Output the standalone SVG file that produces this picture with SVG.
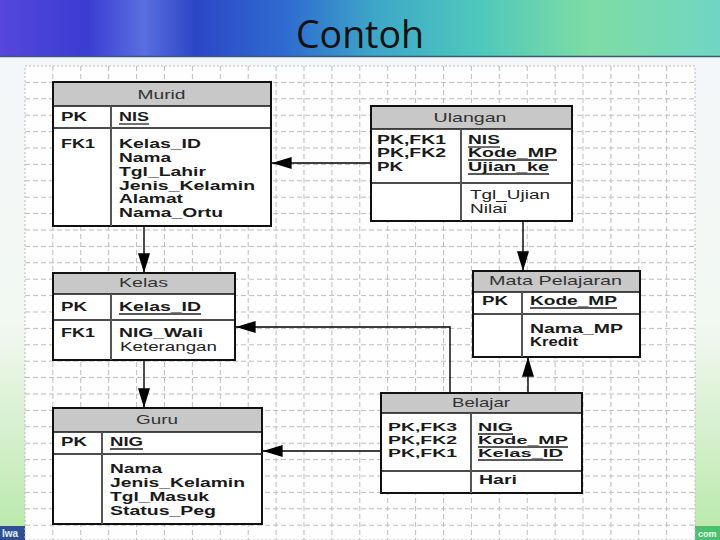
<svg xmlns="http://www.w3.org/2000/svg" width="720" height="540" viewBox="0 0 720 540">
<defs>
<linearGradient id="hdr" x1="0" y1="0" x2="1" y2="0">
<stop offset="0" stop-color="#5646dc"/>
<stop offset="0.12" stop-color="#3a3cd2"/>
<stop offset="0.2" stop-color="#5a6ee0"/>
<stop offset="0.27" stop-color="#2c46c6"/>
<stop offset="0.4" stop-color="#2f6cd0"/>
<stop offset="0.52" stop-color="#3ea6c8"/>
<stop offset="0.66" stop-color="#4cc8bc"/>
<stop offset="0.82" stop-color="#7edca4"/>
<stop offset="1" stop-color="#6fd6c4"/>
</linearGradient>
<linearGradient id="bg" x1="0" y1="0" x2="0" y2="1">
<stop offset="0" stop-color="#f4f6fa"/>
<stop offset="0.6" stop-color="#f2f8f2"/>
<stop offset="1" stop-color="#b8e8a8"/>
</linearGradient>
<marker id="ah" markerUnits="userSpaceOnUse" markerWidth="20" markerHeight="12" viewBox="0 0 18 11" refX="18" refY="5.5" orient="auto">
<path d="M0,0 L18,5.5 L0,11 Z" fill="#000"/>
</marker>
<style>
.tb{fill:#fff;stroke:#111;stroke-width:2}
.hd{fill:#c8c8c8;stroke:none}
.sep{stroke:#111;stroke-width:1.5}
.div{stroke:#555;stroke-width:2}
.ul{stroke:#222;stroke-width:1.3}
.t{font-family:"Liberation Sans",Arial,sans-serif;font-size:13px;fill:#333;text-anchor:middle}
.b{font-family:"Liberation Sans",Arial,sans-serif;font-size:12px;font-weight:bold;fill:#1a1a1a}
.s{font-size:11px}
.r{font-family:"Liberation Sans",Arial,sans-serif;font-size:12px;fill:#222}
.cn{fill:none;stroke:#000;stroke-width:1.4;marker-end:url(#ah)}
.grid{fill:none;stroke:#bdbdbd;stroke-width:1;stroke-dasharray:5 3}
</style>
</defs>

<rect x="0" y="0" width="720" height="540" fill="url(#bg)"/>
<rect x="0" y="0" width="720" height="56" fill="url(#hdr)"/>
<line x1="0" y1="56.5" x2="720" y2="56.5" stroke="#3c5a6a" stroke-width="1.5"/>
<text x="360" y="48" font-family="'Open Sans','Liberation Sans',sans-serif" font-size="38" fill="#111" text-anchor="middle" textLength="128" lengthAdjust="spacingAndGlyphs">Contoh</text>

<rect x="0" y="526" width="25" height="14" fill="#2e4f96"/>
<text x="2" y="537" font-family="'Liberation Sans',sans-serif" font-size="10" font-weight="bold" fill="#e8eef8">Iwa</text>
<rect x="695" y="526" width="25" height="14" fill="#4cc070"/>
<text x="698" y="537" font-family="'Liberation Sans',sans-serif" font-size="9" font-weight="bold" fill="#f0fff0">com</text>

<rect x="25" y="66" width="670" height="474" fill="#fefefe" stroke="#bbb" stroke-dasharray="2 2"/>
<path class="grid" d="M52.9,66V540M80.8,66V540M108.7,66V540M136.6,66V540M164.5,66V540M192.4,66V540M220.3,66V540M248.2,66V540M276.1,66V540M304,66V540M331.9,66V540M359.8,66V540M387.7,66V540M415.6,66V540M443.5,66V540M471.4,66V540M499.3,66V540M527.2,66V540M555.1,66V540M583,66V540M610.9,66V540M638.8,66V540M666.7,66V540M25,82.4H695M25,98.8H695M25,115.2H695M25,131.6H695M25,148H695M25,164.4H695M25,180.8H695M25,197.2H695M25,213.6H695M25,230H695M25,246.4H695M25,262.8H695M25,279.2H695M25,295.6H695M25,312H695M25,328.4H695M25,344.8H695M25,361.2H695M25,377.6H695M25,394H695M25,410.4H695M25,426.8H695M25,443.2H695M25,459.6H695M25,476H695M25,492.4H695M25,508.8H695M25,525.2H695"/>

<g id="connectors">
<path class="cn" d="M371,163H272"/>
<path class="cn" d="M144,226V273"/>
<path class="cn" d="M523,221V271"/>
<path class="cn" d="M528,393V357"/>
<path class="cn" d="M450,393V327H236"/>
<path class="cn" d="M381,451H263"/>
<path class="cn" d="M144,360V408"/>
</g>

<g id="murid">
<rect class="tb" x="53" y="82" width="218" height="144"/>
<rect class="hd" x="54" y="83" width="216" height="23"/>
<line class="sep" x1="53" y1="106" x2="271" y2="106"/>
<line class="sep" x1="53" y1="128" x2="271" y2="128"/>
<line class="div" x1="111" y1="106" x2="111" y2="226"/>
<text class="t" x="161.5" y="99" textLength="48" lengthAdjust="spacingAndGlyphs">Murid</text>
<text class="b" x="61" y="121" textLength="26" lengthAdjust="spacingAndGlyphs">PK</text>
<text class="b" x="119" y="121" textLength="30" lengthAdjust="spacingAndGlyphs">NIS</text>
<line class="ul" x1="119" y1="124" x2="149" y2="124"/>
<text class="b" x="61" y="148" textLength="34" lengthAdjust="spacingAndGlyphs">FK1</text>
<text class="b" x="119" y="148" textLength="82" lengthAdjust="spacingAndGlyphs">Kelas_ID</text>
<text class="b" x="119" y="162" textLength="52" lengthAdjust="spacingAndGlyphs">Nama</text>
<text class="b" x="119" y="176" textLength="87" lengthAdjust="spacingAndGlyphs">Tgl_Lahir</text>
<text class="b" x="119" y="190" textLength="136" lengthAdjust="spacingAndGlyphs">Jenis_Kelamin</text>
<text class="b" x="119" y="203" textLength="64" lengthAdjust="spacingAndGlyphs">Alamat</text>
<text class="b" x="119" y="217" textLength="104" lengthAdjust="spacingAndGlyphs">Nama_Ortu</text>
</g>

<g id="ulangan">
<rect class="tb" x="371" y="106" width="201" height="115"/>
<rect class="hd" x="372" y="107" width="199" height="22"/>
<line class="sep" x1="371" y1="129" x2="572" y2="129"/>
<line class="sep" x1="371" y1="183" x2="572" y2="183"/>
<line class="div" x1="461" y1="129" x2="461" y2="221"/>
<text class="t" x="470" y="122" textLength="73" lengthAdjust="spacingAndGlyphs">Ulangan</text>
<text class="b" x="377" y="144" textLength="69" lengthAdjust="spacingAndGlyphs">PK,FK1</text>
<text class="b" x="377" y="157" textLength="69" lengthAdjust="spacingAndGlyphs">PK,FK2</text>
<text class="b" x="377" y="171" textLength="26" lengthAdjust="spacingAndGlyphs">PK</text>
<text class="b" x="468" y="144" textLength="32" lengthAdjust="spacingAndGlyphs">NIS</text>
<line class="ul" x1="468" y1="147" x2="500" y2="147"/>
<text class="b" x="468" y="157" textLength="89" lengthAdjust="spacingAndGlyphs">Kode_MP</text>
<line class="ul" x1="468" y1="160" x2="557" y2="160"/>
<text class="b" x="468" y="171" textLength="81" lengthAdjust="spacingAndGlyphs">Ujian_ke</text>
<line class="ul" x1="468" y1="174" x2="549" y2="174"/>
<text class="r" x="470" y="199" textLength="80" lengthAdjust="spacingAndGlyphs">Tgl_Ujian</text>
<text class="r" x="470" y="213" textLength="37" lengthAdjust="spacingAndGlyphs">Nilai</text>
</g>

<g id="kelas">
<rect class="tb" x="53" y="273" width="182" height="87"/>
<rect class="hd" x="54" y="274" width="180" height="20"/>
<line class="sep" x1="53" y1="294" x2="235" y2="294"/>
<line class="sep" x1="53" y1="320" x2="235" y2="320"/>
<line class="div" x1="111" y1="294" x2="111" y2="360"/>
<text class="t" x="143.5" y="287" textLength="49" lengthAdjust="spacingAndGlyphs">Kelas</text>
<text class="b" x="61" y="311" textLength="26" lengthAdjust="spacingAndGlyphs">PK</text>
<text class="b" x="119" y="311" textLength="82" lengthAdjust="spacingAndGlyphs">Kelas_ID</text>
<line class="ul" x1="119" y1="314" x2="201" y2="314"/>
<text class="b" x="61" y="337" textLength="34" lengthAdjust="spacingAndGlyphs">FK1</text>
<text class="b" x="119" y="337" textLength="84" lengthAdjust="spacingAndGlyphs">NIG_Wali</text>
<text class="r" x="120" y="351" textLength="97" lengthAdjust="spacingAndGlyphs">Keterangan</text>
</g>

<g id="mata-pelajaran">
<rect class="tb" x="473" y="271" width="167" height="86"/>
<rect class="hd" x="474" y="272" width="165" height="20"/>
<line class="sep" x1="473" y1="292" x2="640" y2="292"/>
<line class="sep" x1="473" y1="314" x2="640" y2="314"/>
<line class="div" x1="522" y1="292" x2="522" y2="357"/>
<text class="t" x="555.5" y="285" textLength="133" lengthAdjust="spacingAndGlyphs">Mata Pelajaran</text>
<text class="b" x="482" y="305" textLength="26" lengthAdjust="spacingAndGlyphs">PK</text>
<text class="b" x="530" y="305" textLength="87" lengthAdjust="spacingAndGlyphs">Kode_MP</text>
<line class="ul" x1="530" y1="308" x2="617" y2="308"/>
<text class="b" x="530" y="333" textLength="93" lengthAdjust="spacingAndGlyphs">Nama_MP</text>
<text class="b" x="530" y="346" textLength="48" lengthAdjust="spacingAndGlyphs">Kredit</text>
</g>

<g id="guru">
<rect class="tb" x="53" y="408" width="209" height="116"/>
<rect class="hd" x="54" y="409" width="207" height="23"/>
<line class="sep" x1="53" y1="432" x2="262" y2="432"/>
<line class="sep" x1="53" y1="454" x2="262" y2="454"/>
<line class="div" x1="102" y1="432" x2="102" y2="524"/>
<text class="t" x="157" y="424" textLength="42" lengthAdjust="spacingAndGlyphs">Guru</text>
<text class="b" x="61" y="446" textLength="26" lengthAdjust="spacingAndGlyphs">PK</text>
<text class="b" x="110" y="446" textLength="33" lengthAdjust="spacingAndGlyphs">NIG</text>
<line class="ul" x1="110" y1="449" x2="143" y2="449"/>
<text class="b" x="110" y="473" textLength="52" lengthAdjust="spacingAndGlyphs">Nama</text>
<text class="b" x="110" y="487" textLength="135" lengthAdjust="spacingAndGlyphs">Jenis_Kelamin</text>
<text class="b" x="110" y="501" textLength="99" lengthAdjust="spacingAndGlyphs">Tgl_Masuk</text>
<text class="b" x="110" y="515" textLength="106" lengthAdjust="spacingAndGlyphs">Status_Peg</text>
</g>

<g id="belajar">
<rect class="tb" x="381" y="393" width="201" height="100"/>
<rect class="hd" x="382" y="394" width="199" height="19"/>
<line class="sep" x1="381" y1="413" x2="582" y2="413"/>
<line class="sep" x1="381" y1="471" x2="582" y2="471"/>
<line class="div" x1="471" y1="413" x2="471" y2="493"/>
<text class="t" x="481" y="407" textLength="58" lengthAdjust="spacingAndGlyphs">Belajar</text>
<text class="b s" x="388" y="431" textLength="69" lengthAdjust="spacingAndGlyphs">PK,FK3</text>
<text class="b s" x="388" y="444" textLength="69" lengthAdjust="spacingAndGlyphs">PK,FK2</text>
<text class="b s" x="388" y="457" textLength="69" lengthAdjust="spacingAndGlyphs">PK,FK1</text>
<text class="b s" x="478" y="431" textLength="35" lengthAdjust="spacingAndGlyphs">NIG</text>
<line class="ul" x1="478" y1="434" x2="513" y2="434"/>
<text class="b s" x="478" y="444" textLength="90" lengthAdjust="spacingAndGlyphs">Kode_MP</text>
<line class="ul" x1="478" y1="447" x2="568" y2="447"/>
<text class="b s" x="478" y="457" textLength="85" lengthAdjust="spacingAndGlyphs">Kelas_ID</text>
<line class="ul" x1="478" y1="460" x2="563" y2="460"/>
<text class="b" x="479" y="484" textLength="38" lengthAdjust="spacingAndGlyphs">Hari</text>
</g>
</svg>
